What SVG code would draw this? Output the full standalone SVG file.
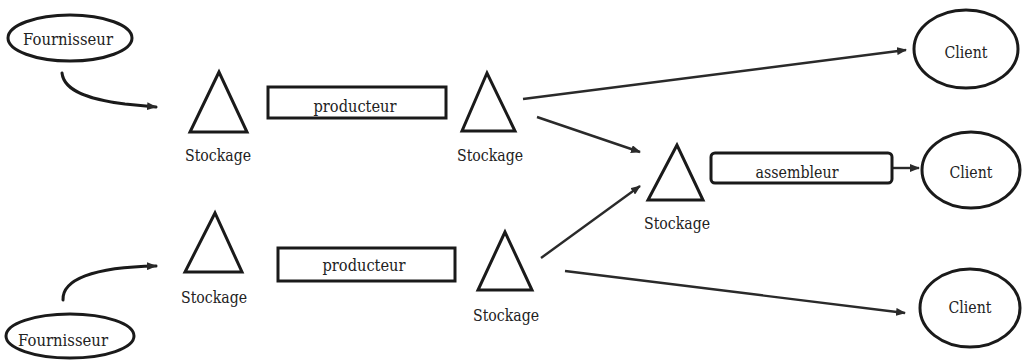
<svg xmlns="http://www.w3.org/2000/svg" width="1022" height="361" viewBox="0 0 1022 361">
<style>
.bg{fill:#ffffff}
.ell{fill:none;stroke:#1a1a1a;stroke-width:3}
.tri{fill:none;stroke:#1a1a1a;stroke-width:3;stroke-linejoin:miter}
.box{fill:#ffffff;stroke:#1a1a1a;stroke-width:3}
.lbl{font-family:'DejaVu Serif',serif;font-size:16px;fill:#222222;text-anchor:middle}
.con{fill:none;stroke:#2a2a2a;stroke-width:2.4}
.cur{fill:none;stroke:#1a1a1a;stroke-width:3;stroke-linecap:round}
</style>
<defs>
<marker id="ah" viewBox="0 0 10 8" refX="9" refY="4" markerWidth="10" markerHeight="8" markerUnits="userSpaceOnUse" orient="auto">
<path d="M0,0 L10,4 L0,8 Z" fill="#2a2a2a"/>
</marker>
</defs>
<rect class="bg" x="0" y="0" width="1022" height="361"/>
<g id="connectors">
<path class="cur" d="M62,73 C64,92 92,100 125,104 L156,107" marker-end="url(#ah)"/>
<path class="cur" d="M63,300 C62,280 92,267 156,266" marker-end="url(#ah)"/>
<line class="con" x1="523" y1="99" x2="906" y2="50" marker-end="url(#ah)"/>
<line class="con" x1="537" y1="117" x2="640" y2="152" marker-end="url(#ah)"/>
<line class="con" x1="541" y1="258" x2="640" y2="186" marker-end="url(#ah)"/>
<line class="con" x1="565" y1="271" x2="905" y2="313" marker-end="url(#ah)"/>
<line class="con" x1="892" y1="168" x2="919" y2="168" marker-end="url(#ah)"/>
</g>
<g id="fournisseur1">
<ellipse class="ell" cx="70" cy="38" rx="62" ry="23"/>
<text class="lbl" x="68" y="45" textLength="90" lengthAdjust="spacingAndGlyphs">Fournisseur</text>
</g>
<g id="fournisseur2">
<ellipse class="ell" cx="70" cy="336" rx="64" ry="22"/>
<text class="lbl" x="63" y="346" textLength="90" lengthAdjust="spacingAndGlyphs">Fournisseur</text>
</g>
<g id="stockage1">
<polygon class="tri" points="219,72 190,132 247,132"/>
<text class="lbl" x="218" y="161" textLength="66" lengthAdjust="spacingAndGlyphs">Stockage</text>
</g>
<g id="producteur1">
<rect class="box" x="268" y="87" width="178" height="31"/>
<text class="lbl" x="355" y="112" textLength="83" lengthAdjust="spacingAndGlyphs">producteur</text>
</g>
<g id="stockage2">
<polygon class="tri" points="487,73 462,131 515,131"/>
<text class="lbl" x="490" y="161" textLength="66" lengthAdjust="spacingAndGlyphs">Stockage</text>
</g>
<g id="stockage4">
<polygon class="tri" points="215,213 185,272 242,272"/>
<text class="lbl" x="214" y="303" textLength="66" lengthAdjust="spacingAndGlyphs">Stockage</text>
</g>
<g id="producteur2">
<rect class="box" x="278" y="248" width="177" height="33"/>
<text class="lbl" x="364" y="271" textLength="83" lengthAdjust="spacingAndGlyphs">producteur</text>
</g>
<g id="stockage5">
<polygon class="tri" points="505,232 478,290 532,290"/>
<text class="lbl" x="506" y="321" textLength="66" lengthAdjust="spacingAndGlyphs">Stockage</text>
</g>
<g id="stockage3">
<polygon class="tri" points="677,145 648,200 703,200"/>
<text class="lbl" x="677" y="229" textLength="66" lengthAdjust="spacingAndGlyphs">Stockage</text>
</g>
<g id="assembleur">
<rect class="box" x="711" y="153" width="181" height="30" rx="4" ry="4"/>
<text class="lbl" x="797" y="178" textLength="83" lengthAdjust="spacingAndGlyphs">assembleur</text>
</g>
<g id="client1">
<ellipse class="ell" cx="966" cy="49" rx="52" ry="39"/>
<text class="lbl" x="966" y="58" textLength="43" lengthAdjust="spacingAndGlyphs">Client</text>
</g>
<g id="client2">
<ellipse class="ell" cx="971" cy="170" rx="49" ry="38"/>
<text class="lbl" x="971" y="178" textLength="43" lengthAdjust="spacingAndGlyphs">Client</text>
</g>
<g id="client3">
<ellipse class="ell" cx="970" cy="308" rx="50" ry="39"/>
<text class="lbl" x="970" y="313" textLength="43" lengthAdjust="spacingAndGlyphs">Client</text>
</g>
</svg>
